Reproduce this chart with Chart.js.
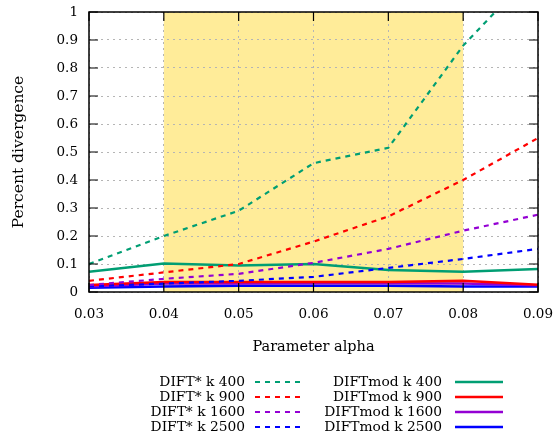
<!DOCTYPE html>
<html>
<head>
<meta charset="utf-8">
<script src="https://cdn.jsdelivr.net/npm/chart.js@4/dist/chart.umd.min.js"></script>
<style>
  html, body { margin: 0; padding: 0; background: #fff; }
  #wrap { width: 553px; height: 438px; position: relative; }
</style>
</head>
<body>
<div id="wrap"><canvas id="c"></canvas></div>
<script>
// valeurs
const alphas = [0.03, 0.04, 0.05, 0.06, 0.07, 0.08, 0.09];
const yTicks = [0, 0.1, 0.2, 0.3, 0.4, 0.5, 0.6, 0.7, 0.8, 0.9, 1];

const diftStar400  = [0.10, 0.20, 0.29, 0.46, 0.515, 0.88, 1.16];
const diftStar900  = [0.04, 0.07, 0.10, 0.18, 0.27, 0.40, 0.55];
const diftStar1600 = [0.025, 0.047, 0.065, 0.104, 0.154, 0.219, 0.276];
const diftStar2500 = [0.02, 0.03, 0.04, 0.054, 0.086, 0.118, 0.154];

const diftMod400  = [0.072, 0.102, 0.095, 0.10, 0.079, 0.072, 0.082];
const diftMod900  = [0.025, 0.036, 0.036, 0.036, 0.036, 0.04, 0.026];
const diftMod1600 = [0.02, 0.03, 0.03, 0.031, 0.031, 0.03, 0.024];
const diftMod2500 = [0.015, 0.02, 0.022, 0.022, 0.022, 0.02, 0.02];

// zone surlignée
const bandFrom = 0.04, bandTo = 0.08;

const GREEN = '#009e73', RED = '#ff0000', PURPLE = '#9400d3', BLUE = '#0000ff';
const FONT = '"DejaVu Serif", "Liberation Serif", serif';

function pts(ys) { return ys.map((y, i) => ({ x: alphas[i], y })); }

function dashed(label, ys, color) {
  return { label, data: pts(ys), borderColor: color, backgroundColor: color,
    borderWidth: 2.2, borderDash: [5, 5], pointRadius: 0, tension: 0, fill: false };
}
function solid(label, ys, color) {
  return { label, data: pts(ys), borderColor: color, backgroundColor: color,
    borderWidth: 2.5, pointRadius: 0, tension: 0, fill: false };
}

const datasets = [
  dashed('DIFT* k 400', diftStar400, GREEN),
  dashed('DIFT* k 900', diftStar900, RED),
  dashed('DIFT* k 1600', diftStar1600, PURPLE),
  dashed('DIFT* k 2500', diftStar2500, BLUE),
  solid('DIFTmod k 400', diftMod400, GREEN),
  solid('DIFTmod k 900', diftMod900, RED),
  solid('DIFTmod k 1600', diftMod1600, PURPLE),
  solid('DIFTmod k 2500', diftMod2500, BLUE)
];

// bande jaune sous la grille
const bandPlugin = {
  id: 'band',
  beforeDraw(chart) {
    const { ctx, chartArea: a, scales: { x } } = chart;
    ctx.save();
    ctx.fillStyle = '#ffec99';
    const x0 = x.getPixelForValue(bandFrom), x1 = x.getPixelForValue(bandTo);
    ctx.fillRect(x0, a.top, x1 - x0, a.bottom - a.top);
    ctx.restore();
  }
};

// cadre + graduations vers l'intérieur, comme gnuplot
const framePlugin = {
  id: 'frame',
  afterDatasetsDraw(chart) {
    const { ctx, chartArea: a, scales: { x, y } } = chart;
    ctx.save();
    ctx.strokeStyle = '#000';
    ctx.lineWidth = 1.2;
    ctx.beginPath();
    y.ticks.forEach(t => {
      const py = y.getPixelForValue(t.value);
      ctx.moveTo(a.left, py); ctx.lineTo(a.left + 9, py);
      ctx.moveTo(a.right, py); ctx.lineTo(a.right - 9, py);
    });
    x.ticks.forEach(t => {
      const px = x.getPixelForValue(t.value);
      ctx.moveTo(px, a.bottom); ctx.lineTo(px, a.bottom - 9);
      ctx.moveTo(px, a.top); ctx.lineTo(px, a.top + 9);
    });
    ctx.stroke();
    ctx.lineWidth = 1.5;
    ctx.strokeRect(a.left, a.top, a.right - a.left, a.bottom - a.top);
    ctx.restore();
  }
};

// légende en deux colonnes sous le graphe
const legendPlugin = {
  id: 'twoColLegend',
  afterDraw(chart) {
    const { ctx } = chart;
    const cols = [{ textRight: 245, lx0: 255, lx1: 304 }, { textRight: 442, lx0: 455, lx1: 503 }];
    const rowY = [382, 397, 412, 427];
    ctx.save();
    ctx.font = '13.8px ' + FONT;
    ctx.textAlign = 'right';
    ctx.textBaseline = 'middle';
    chart.data.datasets.forEach((ds, i) => {
      const col = cols[Math.floor(i / 4)], yy = rowY[i % 4];
      ctx.fillStyle = '#000';
      ctx.fillText(ds.label, col.textRight, yy);
      ctx.strokeStyle = ds.borderColor;
      ctx.lineWidth = ds.borderWidth;
      ctx.setLineDash(ds.borderDash || []);
      ctx.beginPath();
      ctx.moveTo(col.lx0, yy); ctx.lineTo(col.lx1, yy);
      ctx.stroke();
      ctx.setLineDash([]);
    });
    ctx.restore();
  }
};

new Chart(document.getElementById('c'), {
  type: 'line',
  data: { datasets },
  options: {
    responsive: true,
    maintainAspectRatio: false,
    animation: false,
    layout: { padding: { left: 0, top: 12, right: 15, bottom: 82 } },
    plugins: { legend: { display: false }, tooltip: { enabled: false } },
    scales: {
      x: {
        type: 'linear', min: 0.03, max: 0.09,
        afterBuildTicks: (s) => { s.ticks = alphas.map(v => ({ value: v })); },
        ticks: { color: '#000', padding: 14, font: { family: FONT, size: 13.5 },
          callback: (v) => v.toFixed(2), maxRotation: 0 },
        grid: { color: '#b5b5b5', lineWidth: 1, drawTicks: false },
        border: { display: false, dash: [2, 4] },
        title: { display: true, text: 'Parameter alpha', color: '#000',
          font: { family: FONT, size: 14.5 }, padding: { top: 24, bottom: 0 } },
        afterFit: (s) => { s.height = 64; s.paddingLeft = 0; s.paddingRight = 0; }
      },
      y: {
        min: 0, max: 1,
        afterBuildTicks: (s) => { s.ticks = yTicks.map(v => ({ value: v })); },
        ticks: { color: '#000', padding: 11, font: { family: FONT, size: 13.5 },
          callback: (v) => (v === 0 ? '0' : v === 1 ? '1' : v.toFixed(1)) },
        grid: { color: '#b5b5b5', lineWidth: 1, drawTicks: false },
        border: { display: false, dash: [2, 4] },
        title: { display: true, text: 'Percent divergence', color: '#000',
          font: { family: FONT, size: 15.5 }, padding: { top: 10, bottom: 0 } },
        afterFit: (s) => { s.width = 89; s.paddingTop = 0; s.paddingBottom = 0; }
      }
    }
  },
  plugins: [bandPlugin, framePlugin, legendPlugin]
});
</script>
</body>
</html>
